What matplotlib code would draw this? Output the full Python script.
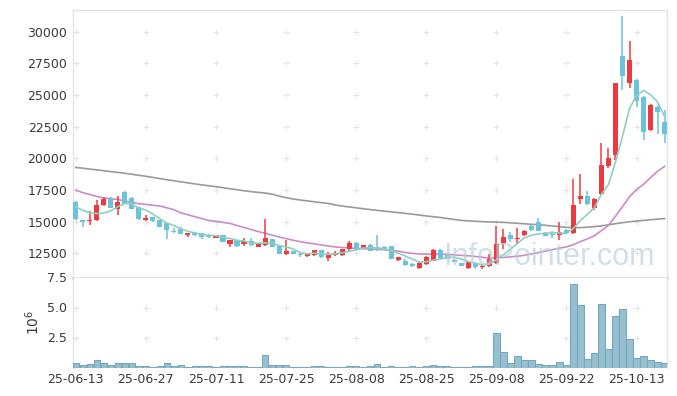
import matplotlib
matplotlib.use('Agg')
import matplotlib.pyplot as plt
import numpy as np
import pandas as pd

# ---------------- data ----------------
holidays = ['2025-08-15', '2025-10-03', '2025-10-06', '2025-10-07', '2025-10-08', '2025-10-09']
dates = [d for d in pd.bdate_range('2025-06-13', '2025-10-17') if d.strftime('%Y-%m-%d') not in holidays]

opens = [16560, 15110, 15090, 15110, 16360, 16830, 16000, 17350, 16880, 16170,
         15140, 15370, 15140, 14880, 14270, 14400, 13925, 14140, 14084, 13870,
         13710, 13925, 13213, 13530, 13213, 13475, 13000, 13130, 13610, 13080,
         12445, 12660, 12475, 12286, 12340, 12737, 12128, 12397, 12340, 12817,
         13347, 12950, 13134, 13000, 12975, 13054, 11946, 11893, 11655, 11336,
         11653, 11920, 12793, 12340, 12000, 11732, 11336, 11684, 11390, 11494,
         11732, 13316, 13925, 13660, 13925, 14700, 14980, 14140, 14060, 13925,
         14320, 14110, 16777, 17014, 16120, 17220, 19390, 20260, 28080, 25940,
         26200, 24830, 22280, 24030, 22850]
highs = [16620, 15150, 15830, 16720, 16990, 16930, 17050, 17400, 16950, 16200,
         15560, 15400, 15160, 14900, 14540, 14560, 14150, 14200, 14100, 14000,
         13960, 13950, 13560, 13560, 13750, 13750, 13320, 15250, 13640, 13100,
         13530, 12700, 12560, 12480, 12780, 12760, 12600, 12680, 12850, 13450,
         13380, 13200, 13270, 13925, 13050, 13080, 12250, 12100, 11760, 11790,
         12330, 12830, 12850, 12360, 12050, 11760, 11840, 11810, 11650, 12475,
         14640, 14400, 14190, 14500, 14350, 14750, 15330, 14160, 14300, 14980,
         14400, 18340, 18733, 17434, 16910, 21190, 20840, 25990, 31270, 29290,
         26250, 24900, 24300, 24200, 23830]
lows = [15150, 14580, 14770, 15040, 16250, 16100, 15540, 16400, 16000, 15150,
        15100, 15000, 14550, 13660, 14110, 14000, 13790, 13880, 13650, 13700,
        13680, 13380, 12975, 12980, 13100, 13080, 12970, 13080, 12980, 12420,
        12400, 12420, 12250, 12250, 12300, 12150, 11866, 12300, 12320, 12700,
        12800, 12900, 12660, 12720, 12850, 12060, 11900, 11500, 11420, 11300,
        11560, 11880, 12100, 12050, 11790, 11470, 11300, 11290, 11280, 11420,
        11680, 12870, 13400, 13237, 13900, 14300, 14250, 13850, 13700, 13530,
        14080, 14050, 16380, 16350, 15900, 17150, 19250, 19870, 25410, 25540,
        24100, 21450, 22200, 21910, 21240]
closes = [15200, 14980, 15170, 16300, 16780, 16120, 16600, 16440, 16040, 15190,
          15330, 15040, 14580, 14350, 14190, 14030, 14084, 13925, 13790, 13770,
          13925, 13395, 13530, 13080, 13475, 13130, 13290, 13710, 13000, 12445,
          12660, 12445, 12340, 12445, 12737, 12210, 12420, 12524, 12817, 13347,
          12817, 13134, 12680, 12737, 12870, 12080, 12200, 11606, 11494, 11732,
          12183, 12793, 12128, 12080, 11810, 11494, 11810, 11415, 11494, 12024,
          13268, 13767, 13610, 13740, 14266, 14330, 14270, 13870, 13925, 14160,
          14108, 16300, 17014, 16380, 16777, 19470, 20050, 25940, 26500, 27760,
          24560, 22110, 24210, 23690, 21950]
# volume in millions of shares
volumes_m = [0.36, 0.19, 0.27, 0.61, 0.36, 0.19, 0.36, 0.36, 0.36, 0.10,
             0.10, 0.03, 0.10, 0.36, 0.10, 0.19, 0.03, 0.10, 0.10, 0.10,
             0.03, 0.10, 0.10, 0.10, 0.10, 0.03, 0.03, 1.04, 0.19, 0.19,
             0.19, 0.03, 0.03, 0.03, 0.10, 0.10, 0.03, 0.03, 0.03, 0.15,
             0.10, 0.03, 0.10, 0.27, 0.03, 0.10, 0.03, 0.03, 0.10, 0.03,
             0.10, 0.19, 0.10, 0.10, 0.03, 0.03, 0.03, 0.10, 0.10, 0.10,
             2.86, 1.30, 0.36, 0.96, 0.61, 0.61, 0.27, 0.19, 0.19, 0.44,
             0.19, 6.95, 5.25, 0.70, 1.21, 5.33, 1.55, 4.28, 4.88, 2.41,
             0.79, 0.96, 0.61, 0.44, 0.36]
# moving-average values at the start of the window (earlier data not shown)
ma5_head = [16170, 15900, 15700, 15650]
ma20_head = [17490, 17300, 17150, 17000, 16880, 16820, 16760, 16650, 16520, 16430,
             16370, 16300, 16246, 16100, 15950, 15700, 15550, 15400, 15250]
ma_long = [19290, 19230, 19160, 19100, 19030, 18960, 18900, 18830, 18750, 18670,
           18590, 18500, 18410, 18320, 18240, 18150, 18070, 17990, 17910, 17840,
           17770, 17690, 17610, 17530, 17450, 17380, 17320, 17270, 17180, 17030,
           16900, 16800, 16720, 16650, 16580, 16510, 16450, 16330, 16240, 16170,
           16100, 16030, 15960, 15900, 15840, 15780, 15720, 15660, 15600, 15530,
           15460, 15400, 15340, 15260, 15180, 15110, 15070, 15040, 15010, 14985,
           14970, 14955, 14920, 14880, 14840, 14800, 14770, 14720, 14670, 14610,
           14560, 14535, 14540, 14570, 14620, 14680, 14760, 14850, 14930, 15000,
           15060, 15110, 15160, 15210, 15250]

price_ticks = [12500, 15000, 17500, 20000, 22500, 25000, 27500, 30000]
vol_ticks = [2.5, 5.0, 7.5]
tick_step = 10

# ---------------- derived ----------------
n = len(closes)
x = np.arange(n)
cs = pd.Series(closes, dtype=float)
ma5 = cs.rolling(5).mean().to_numpy()
ma5[:len(ma5_head)] = ma5_head
ma20 = cs.rolling(20).mean().to_numpy()
ma20[:len(ma20_head)] = ma20_head

RED = '#ee3a3f'
BLUE = '#6cc2da'
GRID = '#e4e4e4'
SPINE = '#e3e3e3'
TXT = '#3a3a3a'

fig = plt.figure(figsize=(6.77, 3.96), dpi=100)
ax = fig.add_axes([73/677, 1-277.5/396, 594/677, 267.5/396])
axv = fig.add_axes([73/677, 1-367.5/396, 594/677, 90/396], sharex=ax)

# candles
up = np.array(closes) >= np.array(opens)
for i in range(n):
    col = RED if up[i] else BLUE
    ax.vlines(x[i], lows[i], highs[i], color=col, linewidth=1.1, zorder=3)
    body = max(abs(closes[i]-opens[i]), 40)
    ax.bar(x[i], body, bottom=min(opens[i], closes[i]), width=0.72, color=col,
           linewidth=0, zorder=4)

ax.plot(x, ma_long, color='#9a9a9a', lw=1.2, zorder=2)
ax.plot(x, ma20, color='#cc8cc8', lw=1.2, zorder=2)
ax.plot(x, ma5, color='#8fcfc2', lw=1.2, zorder=5)

xt = list(range(0, n, tick_step))
ax.set_xlim(-0.4, n - 1 + 0.35)
ax.set_ylim(10600, 31720)
ax.set_yticks(price_ticks)
ax.set_yticklabels([str(v) for v in price_ticks])
# plus-shaped grid marks
gx, gy = np.meshgrid(xt, price_ticks)
ax.scatter(gx.ravel(), gy.ravel(), marker='+', s=14, color=GRID, linewidths=0.8, zorder=1)

ax.text(0.623, 0.045, 'InfoPointer.com', transform=ax.transAxes, ha='left', va='baseline',
        fontsize=22, color='#b7cfdb', alpha=0.65, zorder=6, family='Liberation Sans')

# volume
axv.bar(x, volumes_m, width=0.92, color='#96bfcf', edgecolor='#78a8bd', linewidth=0.8, zorder=3)
axv.set_ylim(0, 7.5)
axv.set_yticks(vol_ticks)
axv.set_yticklabels(['%.1f' % v for v in vol_ticks])
gx2, gy2 = np.meshgrid(xt, vol_ticks[:-1])
axv.scatter(gx2.ravel(), gy2.ravel(), marker='+', s=14, color=GRID, linewidths=0.8, zorder=1)
axv.set_ylabel('$10^{6}$', color=TXT, fontsize=10, labelpad=4)
axv.set_xticks(xt)
axv.set_xticklabels([dates[i].strftime('%y-%m-%d') for i in xt])

for a in (ax, axv):
    a.tick_params(length=0, labelsize=9, colors=TXT, pad=4)
    for s in a.spines.values():
        s.set_color(SPINE)
        s.set_linewidth(1.0)
ax.tick_params(labelbottom=False)
ax.spines['bottom'].set_color('#dcdcdc')
ax.spines['bottom'].set_linewidth(2.0)
axv.spines['top'].set_visible(False)
axv.spines['bottom'].set_visible(False)

fig.savefig('out.png', dpi=100)
